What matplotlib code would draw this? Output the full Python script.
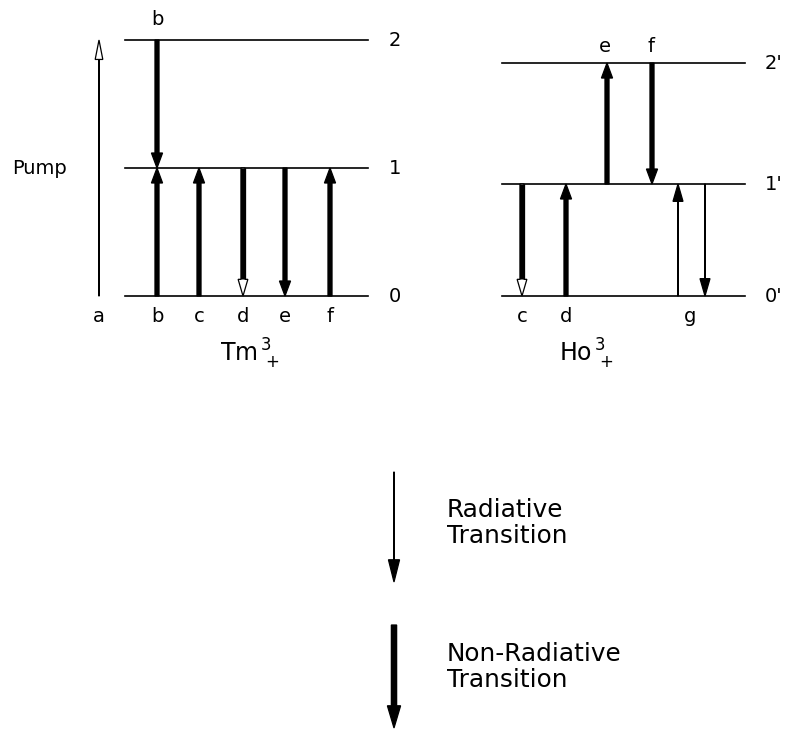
import matplotlib
matplotlib.use("Agg")
import matplotlib.pyplot as plt
from matplotlib.patches import FancyArrowPatch, ArrowStyle

# -----------------------------
# Data: energy levels (in units of the Tm 0->1 gap)
# -----------------------------
tm_levels = [0.0, 1.0, 2.0]
tm_level_names = ["0", "1", "2"]
ho_levels = [0.0, 0.875, 1.82]
ho_level_names = ["0'", "1'", "2'"]

# transitions: start level index, end level index, kind
tm_from = [0, 2, 0, 0, 1, 1, 0]
tm_to = [2, 1, 1, 1, 0, 0, 1]
tm_kind = ["pump", "nonrad", "nonrad", "nonrad", "open", "nonrad", "nonrad"]
tm_bottom_labels = ["a", "b", "c", "d", "e", "f"]
tm_top_labels = ["b"]

ho_from = [1, 0, 1, 2, 0, 1]
ho_to = [0, 1, 2, 1, 1, 0]
ho_kind = ["open", "nonrad", "nonrad", "nonrad", "rad", "rad"]
ho_bottom_labels = ["c", "d", "g"]
ho_top_labels = ["e", "f"]

ion_names = [r"Tm$^{\,3}_{\;+}$", r"Ho$^{\,3}_{\;+}$"]
legend_kinds = ["legend_rad", "legend_nonrad"]
legend_texts = ["Radiative\nTransition", "Non-Radiative\nTransition"]

# -----------------------------
# Layout (pixels)
# -----------------------------
W, H = 787, 729
base_px = 296          # pixel row of the ground levels
px_per_unit = 128.0    # pixels per energy unit

tm_line_x = (125, 368)
ho_line_x = (502, 745)
tm_arrow_x = [99, 157, 157, 199, 243, 285, 330]
ho_arrow_x = [522, 566, 607, 652, 678, 705]
tm_bottom_x = [99, 157, 199, 243, 285, 330]
tm_top_x = [157]
ho_bottom_x = [522, 566, 690]
ho_top_x = [605, 651]

MS = 10  # mutation scale (points)
styles = {
    "nonrad": dict(head_length=1.08, head_width=0.8, tail_width=0.29, fc="black"),
    "open": dict(head_length=1.2, head_width=0.7, tail_width=0.29, fc="white"),
    "rad": dict(head_length=1.25, head_width=0.72, tail_width=0.03, fc="black"),
    "pump": dict(head_length=1.4, head_width=0.55, tail_width=0.03, fc="white"),
    "legend_rad": dict(head_length=1.6, head_width=0.8, tail_width=0.03, fc="black"),
    "legend_nonrad": dict(head_length=1.6, head_width=0.95, tail_width=0.38, fc="black"),
}


def py(px):
    """pixel row -> energy coordinate"""
    return (base_px - px) / px_per_unit


def draw_arrow(ax, x, y0, y1, kind):
    st = styles[kind]
    arrow = FancyArrowPatch(
        (x, y0), (x, y1),
        arrowstyle=ArrowStyle.Simple(head_length=st["head_length"],
                                     head_width=st["head_width"],
                                     tail_width=st["tail_width"]),
        mutation_scale=MS, shrinkA=0, shrinkB=0,
        fc=st["fc"], ec="black", lw=0.9, joinstyle="miter", zorder=3)
    ax.add_patch(arrow)
    if kind == "open":
        # thick black shaft up to the open head
        hl = st["head_length"] * MS * (100 / 72) / px_per_unit
        sign = 1 if y1 > y0 else -1
        shaft_lw = st["tail_width"] * MS + 0.9
        ax.plot([x, x], [y0, y1 - sign * hl], color="black",
                lw=shaft_lw, solid_capstyle="butt", zorder=4)


fig = plt.figure(figsize=(W / 100, H / 100), dpi=100)
ax = fig.add_axes([0, 0, 1, 1])
ax.set_xlim(0, W)
ax.set_ylim(py(H), py(0))
ax.axis("off")

label_fs = 14
ions = [
    (tm_levels, tm_level_names, tm_line_x, tm_arrow_x, tm_from, tm_to, tm_kind,
     tm_bottom_labels, tm_bottom_x, tm_top_labels, tm_top_x, 389, 220, 19),
    (ho_levels, ho_level_names, ho_line_x, ho_arrow_x, ho_from, ho_to, ho_kind,
     ho_bottom_labels, ho_bottom_x, ho_top_labels, ho_top_x, 765, 559, 46),
]

for i, (levels, names, line_x, arrow_x, frm, to, kinds,
        blabels, bx, tlabels, tx, name_x, ion_x, top_px) in enumerate(ions):
    # energy levels
    for lev, name in zip(levels, names):
        ax.plot(line_x, [lev, lev], color="black", lw=1.2, zorder=2)
        ax.text(name_x, lev, name, fontsize=label_fs, ha="left", va="center")
    # transitions
    for x, a, b, k in zip(arrow_x, frm, to, kinds):
        draw_arrow(ax, x, levels[a], levels[b], k)
    # arrow labels
    for lab, x in zip(blabels, bx):
        ax.text(x, py(316), lab, fontsize=label_fs, ha="center", va="center")
    for lab, x in zip(tlabels, tx):
        ax.text(x, py(top_px), lab, fontsize=label_fs, ha="center", va="center")
    # ion name
    ax.text(ion_x, py(362), ion_names[i], fontsize=17, ha="left",
            va="baseline")

ax.text(12, tm_levels[1], "Pump", fontsize=label_fs, ha="left", va="center")

# -----------------------------
# Legend
# -----------------------------
legend_rows = [(472, 582, 523), (625, 728, 667)]
for kind, text, (top, bot, mid) in zip(legend_kinds, legend_texts, legend_rows):
    draw_arrow(ax, 394, py(top), py(bot), kind)
    ax.text(447, py(mid), text, fontsize=17.8, ha="left", va="center",
            linespacing=1.15)

fig.savefig("out.png", dpi=100, facecolor="white")
